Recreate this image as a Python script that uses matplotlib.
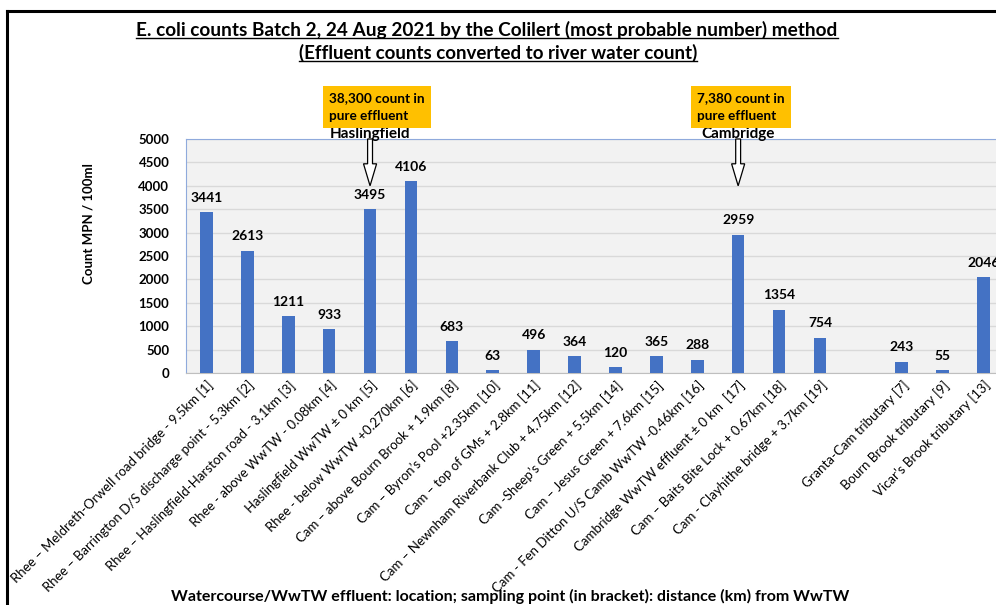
import numpy as np
import matplotlib
matplotlib.use('Agg')
import matplotlib.pyplot as plt
from matplotlib.patches import FancyArrow
from matplotlib.lines import Line2D

plt.rcParams['font.family'] = ['Lato', 'DejaVu Sans']

categories = [
    'Rhee – Meldreth-Orwell road bridge - 9.5km [1]',
    'Rhee – Barrington D/S discharge point - 5.3km [2]',
    'Rhee – Haslingfield-Harston road - 3.1km [3]',
    'Rhee - above WwTW - 0.08km [4]',
    'Haslingfield WwTW ± 0 km [5]',
    'Rhee - below WwTW +0.270km [6]',
    'Cam – above Bourn Brook + 1.9km [8]',
    'Cam – Byron’s Pool +2.35km [10]',
    'Cam – top of GMs + 2.8km [11]',
    'Cam – Newnham Riverbank Club + 4.75km [12]',
    'Cam -Sheep’s Green + 5.5km [14]',
    'Cam – Jesus Green + 7.6km [15]',
    'Cam - Fen Ditton U/S Camb WwTW -0.46km [16]',
    'Cambridge WwTW effluent ± 0 km  [17]',
    'Cam – Baits Bite Lock + 0.67km [18]',
    'Cam - Clayhithe bridge + 3.7km [19]',
    '',
    'Granta-Cam tributary [7]',
    'Bourn Brook tributary [9]',
    'Vicar’s Brook tributary [13]',
]
counts = [3441, 2613, 1211, 933, 3495, 4106, 683, 63, 496, 364,
          120, 365, 288, 2959, 1354, 754, np.nan, 243, 55, 2046]

title_lines = ['E. coli counts Batch 2, 24 Aug 2021 by the Colilert (most probable number) method',
               '(Effluent counts converted to river water count)']
callouts = [(4, '38,300 count in\npure effluent', 'Haslingfield'),
            (13, '7,380 count in\npure effluent', 'Cambridge')]

W, H = 996, 605
fig = plt.figure(figsize=(W / 100, H / 100), dpi=100)
ax = fig.add_axes([186 / W, 1 - 373 / H, 818 / W, 234 / H])
ax.set_facecolor('#F2F2F2')

x = np.arange(len(categories))
vals = np.array(counts, dtype=float)
bars = ax.bar(x, np.nan_to_num(vals), width=0.31, color='#4472C4', zorder=3)
for xi, v in zip(x, vals):
    if not np.isnan(v):
        ax.annotate(f'{int(v)}', (xi, v), xytext=(0, 6), textcoords='offset points',
                    ha='center', va='bottom', fontsize=10, fontweight='bold',
                    annotation_clip=False)

ax.set_xlim(-0.5, len(categories) - 0.5)
ax.set_ylim(0, 5000)
ax.set_yticks(np.arange(0, 5001, 500))
ax.yaxis.grid(True, color='#D9D9D9', lw=1, zorder=0)
ax.tick_params(axis='both', length=0)
ax.tick_params(axis='y', pad=12)
for lab in ax.get_yticklabels():
    lab.set_fontweight('bold')
    lab.set_fontsize(9.5)
ax.set_xticks(x)
ax.set_xticklabels(categories, rotation=45, ha='right', va='top',
                   rotation_mode='anchor', fontsize=9.5)
ax.tick_params(axis='x', pad=4)
for s in ['top', 'left']:
    ax.spines[s].set_color('#8FAADC')
ax.spines['right'].set_visible(False)
ax.spines['bottom'].set_color('#BFBFBF')

# callouts with hollow arrows
for idx, box_txt, site in callouts:
    arr = FancyArrow(x[idx], 5000, 0, -1000, width=0.12, head_width=0.32,
                     head_length=470, length_includes_head=True,
                     fc='white', ec='black', lw=0.9, clip_on=False, zorder=5)
    ax.add_patch(arr)
    ax.annotate(site, (x[idx], 5000), xytext=(0, 1), textcoords='offset points',
                ha='center', va='baseline', fontsize=11, fontweight='bold',
                annotation_clip=False)
    ax.annotate(box_txt, (x[idx], 5000), xytext=(-29.5, 12.5), textcoords='offset points',
                ha='left', va='bottom', fontsize=9.8, fontweight='bold', linespacing=1.55,
                annotation_clip=False,
                bbox=dict(boxstyle='square,pad=0.45', fc='#FFC000', ec='none'))

fig.text(88 / W, 1 - 224 / H, 'Count MPN / 100ml', rotation=90, ha='center', va='center',
         fontsize=9.5, fontweight='bold')
fig.text(510 / W, 1 - 596 / H,
         'Watercourse/WwTW effluent: location; sampling point (in bracket): distance (km) from WwTW',
         ha='center', va='center', fontsize=11.5, fontweight='bold')

# title with underline
t1 = fig.text(487 / W, 1 - 30 / H, title_lines[0], ha='center', va='center',
              fontsize=13.7, fontweight='bold')
t2 = fig.text(498 / W, 1 - 53 / H, title_lines[1], ha='center', va='center',
              fontsize=13.5, fontweight='bold')
fig.canvas.draw()
r = fig.canvas.get_renderer()
for t in (t1, t2):
    bb = t.get_window_extent(r).transformed(fig.transFigure.inverted())
    fig.add_artist(Line2D([bb.x0, bb.x1], [bb.y0 + 1.5 / H, bb.y0 + 1.5 / H],
                          color='black', lw=1))

# outer frame (top and left edges visible)
fig.add_artist(Line2D([7 / W, 1.01], [1 - 11 / H, 1 - 11 / H], color='black', lw=2.2))
fig.add_artist(Line2D([7 / W, 7 / W], [-0.01, 1 - 11 / H], color='black', lw=2.2))

fig.savefig('out.png', dpi=100)
